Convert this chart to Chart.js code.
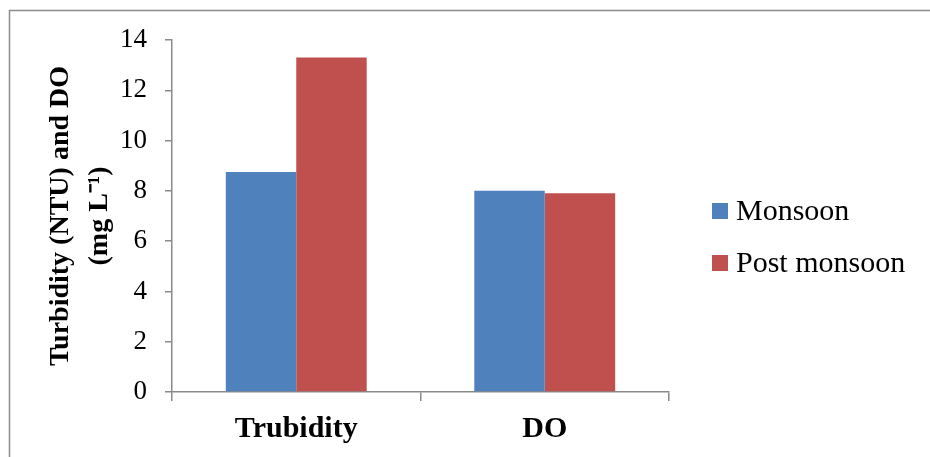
<!DOCTYPE html>
<html>
<head>
<meta charset="utf-8">
<script src="https://cdn.jsdelivr.net/npm/chart.js@4"></script>
<style>
  html, body { margin: 0; padding: 0; background: #ffffff; }
  canvas { display: block; }
</style>
</head>
<body>
<canvas id="chart" width="930" height="457"></canvas>
<script>
// Water quality parameters by season
const categories = ['Trubidity', 'DO'];
const seriesNames = ['Monsoon', 'Post monsoon'];
const monsoon = [8.75, 8.0];
const postMonsoon = [13.3, 7.9];
const yTicks = [0, 2, 4, 6, 8, 10, 12, 14];

const SERIF = '"Liberation Serif", "Times New Roman", serif';
const AXIS_GREY = '#8a8a8a';

// Outer frame and right-hand legend
const framePlugin = {
  id: 'frame',
  beforeDraw(chart) {
    const ctx = chart.ctx;
    ctx.save();
    ctx.fillStyle = '#ffffff';
    ctx.fillRect(0, 0, chart.width, chart.height);
    ctx.strokeStyle = '#8c8c8c';
    ctx.lineWidth = 1.5;
    ctx.beginPath();
    ctx.moveTo(9.5, chart.height);
    ctx.lineTo(9.5, 10.5);
    ctx.lineTo(chart.width, 10.5);
    ctx.stroke();
    ctx.restore();
  },
  afterDraw(chart) {
    const ctx = chart.ctx;
    ctx.save();
    ctx.font = '30px ' + SERIF;
    ctx.textBaseline = 'middle';
    ctx.textAlign = 'left';
    chart.data.datasets.forEach((ds, i) => {
      const cy = 211 + i * 52;
      ctx.fillStyle = ds.backgroundColor;
      ctx.fillRect(712, cy - 8, 16, 16);
      ctx.fillStyle = '#000000';
      ctx.fillText(ds.label, 736, cy + 1);
    });
    ctx.restore();
  }
};

new Chart(document.getElementById('chart'), {
  type: 'bar',
  data: {
    labels: categories,
    datasets: [
      { label: seriesNames[0], data: monsoon, backgroundColor: '#4F81BD', borderWidth: 0 },
      { label: seriesNames[1], data: postMonsoon, backgroundColor: '#C0504D', borderWidth: 0 }
    ]
  },
  options: {
    responsive: false,
    animation: false,
    devicePixelRatio: 1,
    layout: { padding: { top: 40, right: 261, bottom: 0, left: 0 } },
    datasets: { bar: { categoryPercentage: 0.567, barPercentage: 1.0 } },
    plugins: {
      legend: { display: false },
      tooltip: { enabled: false }
    },
    scales: {
      x: {
        grid: { drawOnChartArea: false, drawTicks: true, tickLength: 9, color: AXIS_GREY, lineWidth: 1.5, offset: true },
        border: { color: AXIS_GREY, width: 1.5 },
        ticks: { color: '#000000', font: { family: SERIF, size: 30, weight: 'bold' }, padding: 10 },
        afterFit(scale) { scale.height = 65; }
      },
      y: {
        min: 0,
        max: 14,
        afterBuildTicks(scale) { scale.ticks = yTicks.map(v => ({ value: v })); },
        grid: { drawOnChartArea: false, drawTicks: true, tickLength: 7, color: AXIS_GREY, lineWidth: 1.5 },
        border: { color: AXIS_GREY, width: 1.5 },
        ticks: { color: '#000000', font: { family: SERIF, size: 27 }, padding: 18 },
        title: {
          display: true,
          text: ['Turbidity (NTU) and DO', '(mg L\u207B\u00B9)'],
          color: '#000000',
          font: { family: SERIF, size: 28, weight: 'bold', lineHeight: '39px' },
          padding: { top: 41, bottom: 0 }
        },
        afterFit(scale) { scale.width = 172; }
      }
    }
  },
  plugins: [framePlugin]
});
</script>
</body>
</html>
